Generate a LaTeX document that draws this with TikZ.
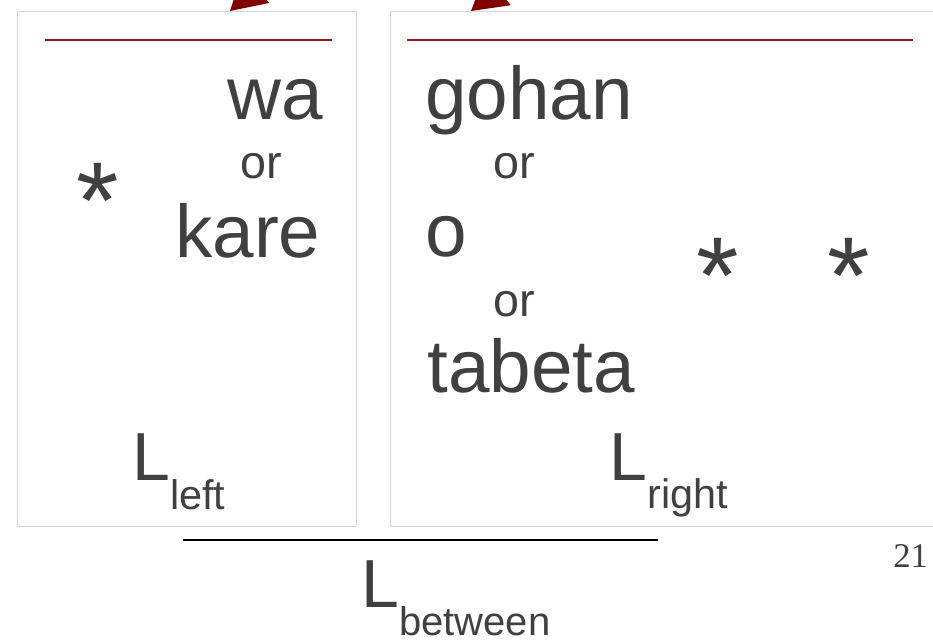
\documentclass[tikz,border=0pt]{standalone}
\usepackage{fontspec}
\setmainfont{Liberation Sans}
\newfontfamily\pagenumfont{Liberation Serif}
\usetikzlibrary{arrows.meta, positioning}

\definecolor{textgray}{RGB}{64,64,64}
\definecolor{rulered}{RGB}{155,25,25}
\definecolor{arrowred}{RGB}{128,0,0}
\definecolor{framegray}{RGB}{214,214,214}

\begin{document}
\begin{tikzpicture}[x=0.75pt, y=-0.75pt,
    word/.style={text=textgray, inner sep=0, anchor=base west, font=\fontsize{56}{62}\selectfont},
    orword/.style={word, font=\fontsize{35}{40}\selectfont},
    star/.style={word, font=\fontsize{82}{90}\selectfont},
    lang/.style={word, font=\fontsize{51}{56}\selectfont},
    langsub/.style={word, font=\fontsize{31}{36}\selectfont},
    panel/.style={draw=framegray, line width=1pt, anchor=north west, inner sep=0},
    redrule/.style={draw=rulered, line width=1.1pt},
    pointer/.style={draw=arrowred, line width=1.5pt, -{Triangle[length=26pt, width=30pt]}}]

    \useasboundingbox (0,0) rectangle (933,643);
    \begin{scope}
    \clip (0,0) rectangle (933,643);

    % Two panels (right one runs off the page)
    \node (leftpanel) [panel, minimum width=254.25pt, minimum height=386.25pt] at (17,11) {};
    \node (rightpanel) [panel, minimum width=420pt, minimum height=386.25pt] at (390,11) {};

    % Arrows coming in from above
    \coordinate (leftsrc) at (298,-50);
    \coordinate (lefttip) at (230,11);
    \coordinate (rightsrc) at (535,-40);
    \coordinate (righttip) at (471,11);
    \draw[pointer] (leftsrc) -- (lefttip);
    \draw[pointer] (rightsrc) -- (righttip);

    % Title rules
    \draw[redrule] (45,40) -- (332,40);
    \draw[redrule] (407,40) -- (913,40);

    % Left panel
    \node (wa) [word] at (227,119) {wa};
    \node (orleft) [orword] at (240,178) {or};
    \node (kare) [word] at (175,257) {kare};
    \node (starleft) [star] at (76,238) {*};
    \node (lleft) [lang] at (132,480) {L};
    \node (lleftsub) [langsub] at (170,509) {left};

    % Right panel
    \node (gohan) [word] at (425,119) {gohan};
    \node (orone) [orword] at (493,178) {or};
    \node (o) [word] at (425,256) {o};
    \node (ortwo) [orword] at (493,316) {or};
    \node (tabeta) [word] at (427,392) {tabeta};
    \node (starone) [star] at (696,313) {*};
    \node (startwo) [star] at (827,313) {*};
    \node (lright) [lang] at (609,480) {L};
    \node (lrightsub) [langsub] at (647,508) {right};

    % Bar and L between
    \draw[line width=0.9pt] (183,540) -- (658,540);
    \node (lbetween) [lang] at (361,607) {L};
    \node (lbetweensub) [langsub, font=\fontsize{30}{36}\selectfont] at (399,635) {between};

    % Page number
    \node (pagenum) [word, font=\pagenumfont\fontsize{26}{30}\selectfont] at (893,567) {21};
    \end{scope}
\end{tikzpicture}
\end{document}
